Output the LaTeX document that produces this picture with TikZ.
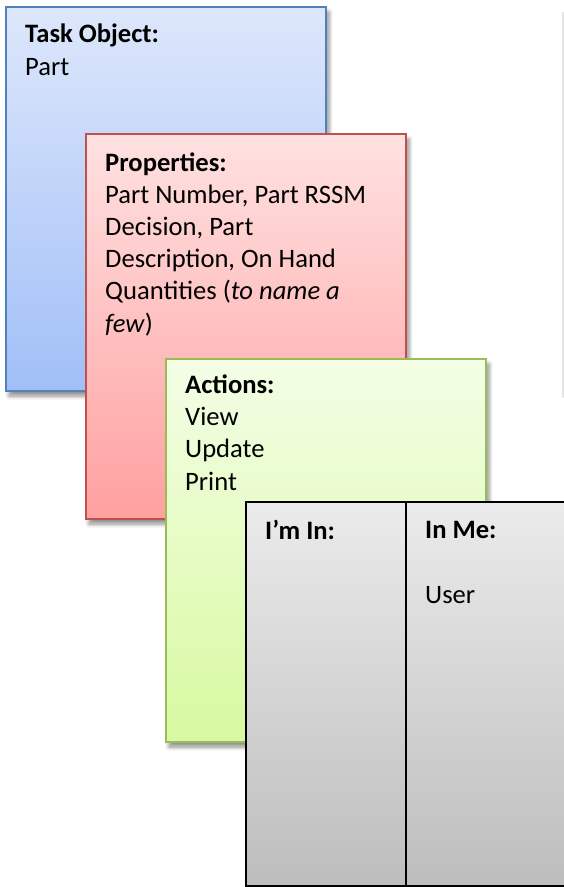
\documentclass[tikz,border=0pt]{standalone}
\usepackage{fontspec}
\setmainfont{Carlito}
\usetikzlibrary{shadows.blur}
\definecolor{bluebd}{HTML}{4F81BD}
\definecolor{bluetop}{HTML}{DDE7FB}
\definecolor{bluebot}{HTML}{A1BFF7}
\definecolor{redbd}{HTML}{C0504D}
\definecolor{redtop}{HTML}{FFE1E1}
\definecolor{redbot}{HTML}{FFA0A0}
\definecolor{greenbd}{HTML}{9BBB59}
\definecolor{greentop}{HTML}{F3FEE6}
\definecolor{greenbot}{HTML}{D8F9A0}
\definecolor{graytop}{HTML}{EBEBEB}
\definecolor{graybot}{HTML}{BDBDBD}
\tikzset{
  card/.style={rectangle, inner sep=0pt, outer sep=0pt, anchor=north west, line width=2pt,
    blur shadow={shadow xshift=3pt, shadow yshift=-5pt, shadow blur steps=6, shadow opacity=45, shadow blur radius=4pt}},
  bluecard/.style={card, draw=bluebd, top color=bluetop, bottom color=bluebot},
  redcard/.style={card, draw=redbd, top color=redtop, bottom color=redbot},
  greencard/.style={card, draw=greenbd, top color=greentop, bottom color=greenbot},
  graycard/.style={card, draw=black, top color=graytop, bottom color=graybot},
  txt/.style={anchor=base west, inner sep=0pt, align=left, font=\fontsize{26.6}{32.2}\selectfont},
}
\begin{document}
\begin{tikzpicture}[x=1pt,y=-1pt]
\useasboundingbox (0,0) rectangle (564,887);
% faint shadow of an off-page box at the right edge
\fill[black!10] (562,12) rectangle (564,398);
\node[bluecard, minimum width=320pt, minimum height=384pt] (task) at (6,7) {};
\node[txt] (tasktxt) at ([xshift=19pt,yshift=-68pt]task.north west) {\textbf{Task Object:}\\Part};
\node[redcard, minimum width=320pt, minimum height=385pt] (prop) at (86,134) {};
\node[txt] (proptxt) at ([xshift=19pt,yshift=-198pt]prop.north west) {\textbf{Properties:}\\Part Number, Part RSSM\\Decision, Part\\Description, On Hand\\Quantities (\textit{to name a}\\\textit{few})};
\node[greencard, minimum width=320pt, minimum height=383pt] (act) at (166,359) {};
\node[txt] (acttxt) at ([xshift=19pt,yshift=-131pt]act.north west) {\textbf{Actions:}\\View\\Update\\Print};
\node[graycard, minimum width=160pt, minimum height=384pt] (imin) at (246,502) {};
\node[graycard, minimum width=160pt, minimum height=384pt] (inme) at (406,502) {};
\node[txt] (imintxt) at ([xshift=19pt,yshift=-37pt]imin.north west) {\textbf{I’m In:}};
\node[txt] (inmetxt) at ([xshift=19pt,yshift=-101pt]inme.north west) {\textbf{In Me:}\\[32.2pt]User};
\end{tikzpicture}
\end{document}
